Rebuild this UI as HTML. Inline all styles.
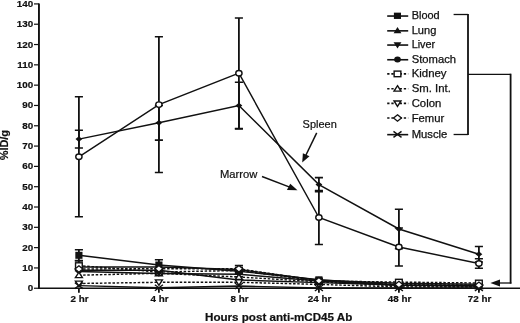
<!DOCTYPE html>
<html><head><meta charset="utf-8"><style>
html,body{margin:0;padding:0;background:#fff;}
body{width:520px;height:323px;overflow:hidden;}
svg{display:block;filter:blur(0.28px);}
text{font-family:"Liberation Sans",sans-serif;fill:#111;}
.tl{font-size:9.1px;font-weight:bold;stroke:#111;stroke-width:0.2px;}
.xl{font-size:9.2px;font-weight:bold;stroke:#111;stroke-width:0.2px;}
.lg{font-size:10.2px;stroke:#111;stroke-width:0.25px;}
.an{font-size:10.6px;stroke:#111;stroke-width:0.2px;}
.yt{font-size:10.2px;font-weight:bold;stroke:#111;stroke-width:0.15px;}
.xt{font-size:10.2px;font-weight:bold;stroke:#111;stroke-width:0.2px;}
</style></head><body>
<svg width="520" height="323" viewBox="0 0 520 323">
<path d="M38.95,3.5 V289" stroke="#111" stroke-width="1.9" fill="none"/>
<path d="M38,288.25 H520" stroke="#111" stroke-width="1.5" fill="none"/>
<path d="M34.0,288.25 H39" stroke="#111" stroke-width="1.2"/>
<text transform="translate(33.2,291.25) scale(1.08,1)" text-anchor="end" class="tl">0</text>
<path d="M34.0,267.94 H39" stroke="#111" stroke-width="1.2"/>
<text transform="translate(33.2,270.94) scale(1.08,1)" text-anchor="end" class="tl">10</text>
<path d="M34.0,247.63 H39" stroke="#111" stroke-width="1.2"/>
<text transform="translate(33.2,250.63) scale(1.08,1)" text-anchor="end" class="tl">20</text>
<path d="M34.0,227.32 H39" stroke="#111" stroke-width="1.2"/>
<text transform="translate(33.2,230.32) scale(1.08,1)" text-anchor="end" class="tl">30</text>
<path d="M34.0,207.01 H39" stroke="#111" stroke-width="1.2"/>
<text transform="translate(33.2,210.01) scale(1.08,1)" text-anchor="end" class="tl">40</text>
<path d="M34.0,186.70 H39" stroke="#111" stroke-width="1.2"/>
<text transform="translate(33.2,189.70) scale(1.08,1)" text-anchor="end" class="tl">50</text>
<path d="M34.0,166.39 H39" stroke="#111" stroke-width="1.2"/>
<text transform="translate(33.2,169.39) scale(1.08,1)" text-anchor="end" class="tl">60</text>
<path d="M34.0,146.08 H39" stroke="#111" stroke-width="1.2"/>
<text transform="translate(33.2,149.08) scale(1.08,1)" text-anchor="end" class="tl">70</text>
<path d="M34.0,125.77 H39" stroke="#111" stroke-width="1.2"/>
<text transform="translate(33.2,128.77) scale(1.08,1)" text-anchor="end" class="tl">80</text>
<path d="M34.0,105.46 H39" stroke="#111" stroke-width="1.2"/>
<text transform="translate(33.2,108.46) scale(1.08,1)" text-anchor="end" class="tl">90</text>
<path d="M34.0,85.15 H39" stroke="#111" stroke-width="1.2"/>
<text transform="translate(33.2,88.15) scale(1.08,1)" text-anchor="end" class="tl">100</text>
<path d="M34.0,64.84 H39" stroke="#111" stroke-width="1.2"/>
<text transform="translate(33.2,67.84) scale(1.08,1)" text-anchor="end" class="tl">110</text>
<path d="M34.0,44.53 H39" stroke="#111" stroke-width="1.2"/>
<text transform="translate(33.2,47.53) scale(1.08,1)" text-anchor="end" class="tl">120</text>
<path d="M34.0,24.22 H39" stroke="#111" stroke-width="1.2"/>
<text transform="translate(33.2,27.22) scale(1.08,1)" text-anchor="end" class="tl">130</text>
<path d="M34.0,3.91 H39" stroke="#111" stroke-width="1.2"/>
<text transform="translate(33.2,6.91) scale(1.08,1)" text-anchor="end" class="tl">140</text>
<path d="M78.90,288.25 V292.8" stroke="#111" stroke-width="1.8"/>
<text transform="translate(79.50,301.6) scale(1.07,1)" text-anchor="middle" class="xl">2 hr</text>
<path d="M158.90,288.25 V292.8" stroke="#111" stroke-width="1.8"/>
<text transform="translate(159.50,301.6) scale(1.07,1)" text-anchor="middle" class="xl">4 hr</text>
<path d="M238.90,288.25 V292.8" stroke="#111" stroke-width="1.8"/>
<text transform="translate(239.50,301.6) scale(1.07,1)" text-anchor="middle" class="xl">8 hr</text>
<path d="M318.90,288.25 V292.8" stroke="#111" stroke-width="1.8"/>
<text transform="translate(319.50,301.6) scale(1.07,1)" text-anchor="middle" class="xl">24 hr</text>
<path d="M398.90,288.25 V292.8" stroke="#111" stroke-width="1.8"/>
<text transform="translate(399.50,301.6) scale(1.07,1)" text-anchor="middle" class="xl">48 hr</text>
<path d="M478.90,288.25 V292.8" stroke="#111" stroke-width="1.8"/>
<text transform="translate(479.50,301.6) scale(1.07,1)" text-anchor="middle" class="xl">72 hr</text>
<polyline points="78.90,156.80 158.90,104.60 238.90,73.20 318.90,217.50 398.90,247.00 478.90,263.50" fill="none" stroke="#111" stroke-width="1.45"/>
<polyline points="78.90,139.10 158.90,122.80 238.90,105.60 318.90,184.60 398.90,229.00 478.90,254.20" fill="none" stroke="#111" stroke-width="1.45"/>
<polyline points="78.90,255.30 158.90,265.00 238.90,271.20 318.90,279.80 398.90,285.00 478.90,285.80" fill="none" stroke="#111" stroke-width="1.45"/>
<polyline points="78.90,267.00 158.90,267.00 238.90,269.50 318.90,280.20 398.90,283.30 478.90,284.20" fill="none" stroke="#111" stroke-width="1.45"/>
<polyline points="78.90,271.50 158.90,273.50 238.90,274.20 318.90,281.00 398.90,285.40 478.90,286.00" fill="none" stroke="#111" stroke-width="1.45"/>
<polyline points="78.90,270.20 158.90,270.20 238.90,280.00 318.90,282.60 398.90,285.00 478.90,285.60" fill="none" stroke="#111" stroke-width="1.45"/>
<polyline points="78.90,265.60 158.90,272.00 238.90,270.50 318.90,281.00 398.90,282.10 478.90,283.00" fill="none" stroke="#111" stroke-width="1.45" stroke-dasharray="2.5,1.7"/>
<polyline points="78.90,275.20 158.90,273.30 238.90,277.00 318.90,281.80 398.90,285.80 478.90,286.20" fill="none" stroke="#111" stroke-width="1.45" stroke-dasharray="2.5,1.7"/>
<polyline points="78.90,283.50 158.90,282.30 238.90,282.30 318.90,284.40 398.90,286.90 478.90,287.00" fill="none" stroke="#111" stroke-width="1.45" stroke-dasharray="2.5,1.7"/>
<polyline points="78.90,269.00 158.90,268.70 238.90,268.80 318.90,280.80 398.90,284.50 478.90,285.20" fill="none" stroke="#111" stroke-width="1.45" stroke-dasharray="2.5,1.7"/>
<polyline points="78.90,285.60 158.90,287.80 238.90,286.00 318.90,288.00 398.90,288.00 478.90,288.00" fill="none" stroke="#111" stroke-width="1.45"/>
<path d="M78.90,96.80 V216.80" stroke="#111" stroke-width="1.8" fill="none"/>
<path d="M74.85,96.80 H82.95 M74.85,216.80 H82.95" stroke="#111" stroke-width="1.55" fill="none"/>
<path d="M158.90,36.80 V172.40" stroke="#111" stroke-width="1.8" fill="none"/>
<path d="M154.85,36.80 H162.95 M154.85,172.40 H162.95" stroke="#111" stroke-width="1.55" fill="none"/>
<path d="M238.90,17.90 V128.50" stroke="#111" stroke-width="1.8" fill="none"/>
<path d="M234.85,17.90 H242.95 M234.85,128.50 H242.95" stroke="#111" stroke-width="1.55" fill="none"/>
<path d="M318.90,190.50 V244.50" stroke="#111" stroke-width="1.8" fill="none"/>
<path d="M314.85,190.50 H322.95 M314.85,244.50 H322.95" stroke="#111" stroke-width="1.55" fill="none"/>
<path d="M398.90,228.00 V266.00" stroke="#111" stroke-width="1.8" fill="none"/>
<path d="M394.85,228.00 H402.95 M394.85,266.00 H402.95" stroke="#111" stroke-width="1.55" fill="none"/>
<path d="M478.90,258.70 V268.30" stroke="#111" stroke-width="1.8" fill="none"/>
<path d="M474.85,258.70 H482.95 M474.85,268.30 H482.95" stroke="#111" stroke-width="1.55" fill="none"/>
<path d="M78.90,130.20 V148.00" stroke="#111" stroke-width="1.8" fill="none"/>
<path d="M74.85,130.20 H82.95 M74.85,148.00 H82.95" stroke="#111" stroke-width="1.55" fill="none"/>
<path d="M158.90,105.50 V140.10" stroke="#111" stroke-width="1.8" fill="none"/>
<path d="M154.85,105.50 H162.95 M154.85,140.10 H162.95" stroke="#111" stroke-width="1.55" fill="none"/>
<path d="M238.90,82.30 V128.90" stroke="#111" stroke-width="1.8" fill="none"/>
<path d="M234.85,82.30 H242.95 M234.85,128.90 H242.95" stroke="#111" stroke-width="1.55" fill="none"/>
<path d="M318.90,177.60 V191.60" stroke="#111" stroke-width="1.8" fill="none"/>
<path d="M314.85,177.60 H322.95 M314.85,191.60 H322.95" stroke="#111" stroke-width="1.55" fill="none"/>
<path d="M398.90,209.20 V248.80" stroke="#111" stroke-width="1.8" fill="none"/>
<path d="M394.85,209.20 H402.95 M394.85,248.80 H402.95" stroke="#111" stroke-width="1.55" fill="none"/>
<path d="M478.90,246.40 V262.00" stroke="#111" stroke-width="1.8" fill="none"/>
<path d="M474.85,246.40 H482.95 M474.85,262.00 H482.95" stroke="#111" stroke-width="1.55" fill="none"/>
<path d="M78.90,249.80 V260.80" stroke="#111" stroke-width="1.8" fill="none"/>
<path d="M74.85,249.80 H82.95 M74.85,260.80 H82.95" stroke="#111" stroke-width="1.55" fill="none"/>
<path d="M158.90,259.80 V270.20" stroke="#111" stroke-width="1.8" fill="none"/>
<path d="M154.85,259.80 H162.95 M154.85,270.20 H162.95" stroke="#111" stroke-width="1.55" fill="none"/>
<path d="M238.90,265.60 V276.80" stroke="#111" stroke-width="1.8" fill="none"/>
<path d="M234.85,265.60 H242.95 M234.85,276.80 H242.95" stroke="#111" stroke-width="1.55" fill="none"/>
<path d="M78.90,260.60 V270.60" stroke="#111" stroke-width="1.8" fill="none"/>
<path d="M74.85,260.60 H82.95 M74.85,270.60 H82.95" stroke="#111" stroke-width="1.55" fill="none"/>
<ellipse cx="78.90" cy="156.80" rx="3.15" ry="2.75" fill="#fff" stroke="#111" stroke-width="1.4"/>
<path d="M78.90,136.20 L82.30,139.10 L78.90,142.00 L75.50,139.10Z" fill="#111"/>
<rect x="75.32" y="251.80" width="7.17" height="7.00" fill="#111"/>
<path d="M78.90,263.40 L82.82,269.60 L74.98,269.60Z" fill="#111"/>
<path d="M78.90,275.10 L82.82,268.90 L74.98,268.90Z" fill="#111"/>
<ellipse cx="78.90" cy="270.20" rx="3.36" ry="3.00" fill="#111"/>
<rect x="75.54" y="262.80" width="6.72" height="5.60" fill="#fff" stroke="#111" stroke-width="1.4"/>
<path d="M78.90,272.20 L82.37,277.60 L75.43,277.60Z" fill="#fff" stroke="#111" stroke-width="1.4"/>
<path d="M78.90,286.50 L82.37,281.10 L75.43,281.10Z" fill="#fff" stroke="#111" stroke-width="1.4"/>
<path d="M78.90,265.80 L82.82,269.00 L78.90,272.20 L74.98,269.00Z" fill="#fff" stroke="#111" stroke-width="1.35"/>
<path d="M74.87,282.60 L82.93,288.60 M82.93,282.60 L74.87,288.60" stroke="#111" stroke-width="1.4" fill="none"/>
<ellipse cx="158.90" cy="104.60" rx="3.15" ry="2.75" fill="#fff" stroke="#111" stroke-width="1.4"/>
<path d="M158.90,119.90 L162.30,122.80 L158.90,125.70 L155.50,122.80Z" fill="#111"/>
<rect x="155.54" y="269.20" width="6.72" height="5.60" fill="#fff" stroke="#111" stroke-width="1.4"/>
<path d="M158.90,270.30 L162.37,275.70 L155.43,275.70Z" fill="#fff" stroke="#111" stroke-width="1.4"/>
<path d="M158.90,285.30 L162.37,279.90 L155.43,279.90Z" fill="#fff" stroke="#111" stroke-width="1.4"/>
<path d="M154.87,284.80 L162.93,290.80 M162.93,284.80 L154.87,290.80" stroke="#111" stroke-width="1.4" fill="none"/>
<ellipse cx="158.90" cy="270.20" rx="3.36" ry="3.00" fill="#111"/>
<path d="M158.90,277.10 L162.82,270.90 L154.98,270.90Z" fill="#111"/>
<path d="M158.90,263.40 L162.82,269.60 L154.98,269.60Z" fill="#111"/>
<rect x="155.32" y="261.50" width="7.17" height="7.00" fill="#111"/>
<path d="M158.90,265.50 L162.82,268.70 L158.90,271.90 L154.98,268.70Z" fill="#fff" stroke="#111" stroke-width="1.35"/>
<ellipse cx="238.90" cy="73.20" rx="3.15" ry="2.75" fill="#fff" stroke="#111" stroke-width="1.4"/>
<path d="M238.90,102.70 L242.30,105.60 L238.90,108.50 L235.50,105.60Z" fill="#111"/>
<rect x="235.54" y="267.70" width="6.72" height="5.60" fill="#fff" stroke="#111" stroke-width="1.4"/>
<ellipse cx="238.90" cy="280.00" rx="3.36" ry="3.00" fill="#111"/>
<path d="M238.90,277.80 L242.82,271.60 L234.98,271.60Z" fill="#111"/>
<path d="M238.90,265.90 L242.82,272.10 L234.98,272.10Z" fill="#111"/>
<rect x="235.32" y="267.70" width="7.17" height="7.00" fill="#111"/>
<path d="M238.90,274.00 L242.37,279.40 L235.43,279.40Z" fill="#fff" stroke="#111" stroke-width="1.4"/>
<path d="M238.90,285.30 L242.37,279.90 L235.43,279.90Z" fill="#fff" stroke="#111" stroke-width="1.4"/>
<path d="M238.90,265.60 L242.82,268.80 L238.90,272.00 L234.98,268.80Z" fill="#fff" stroke="#111" stroke-width="1.35"/>
<path d="M234.87,283.00 L242.93,289.00 M242.93,283.00 L234.87,289.00" stroke="#111" stroke-width="1.4" fill="none"/>
<ellipse cx="318.90" cy="217.50" rx="3.15" ry="2.75" fill="#fff" stroke="#111" stroke-width="1.4"/>
<path d="M318.90,181.70 L322.30,184.60 L318.90,187.50 L315.50,184.60Z" fill="#111"/>
<rect x="315.54" y="278.20" width="6.72" height="5.60" fill="#fff" stroke="#111" stroke-width="1.4"/>
<path d="M318.90,278.80 L322.37,284.20 L315.43,284.20Z" fill="#fff" stroke="#111" stroke-width="1.4"/>
<path d="M318.90,287.40 L322.37,282.00 L315.43,282.00Z" fill="#fff" stroke="#111" stroke-width="1.4"/>
<path d="M314.87,285.00 L322.93,291.00 M322.93,285.00 L314.87,291.00" stroke="#111" stroke-width="1.4" fill="none"/>
<ellipse cx="318.90" cy="282.60" rx="3.36" ry="3.00" fill="#111"/>
<path d="M318.90,284.60 L322.82,278.40 L314.98,278.40Z" fill="#111"/>
<path d="M318.90,276.60 L322.82,282.80 L314.98,282.80Z" fill="#111"/>
<rect x="315.32" y="276.30" width="7.17" height="7.00" fill="#111"/>
<path d="M318.90,277.60 L322.82,280.80 L318.90,284.00 L314.98,280.80Z" fill="#fff" stroke="#111" stroke-width="1.35"/>
<ellipse cx="398.90" cy="247.00" rx="3.15" ry="2.75" fill="#fff" stroke="#111" stroke-width="1.4"/>
<path d="M398.90,226.10 L402.30,229.00 L398.90,231.90 L395.50,229.00Z" fill="#111"/>
<path d="M394.87,285.00 L402.93,291.00 M402.93,285.00 L394.87,291.00" stroke="#111" stroke-width="1.4" fill="none"/>
<path d="M398.90,289.90 L402.37,284.50 L395.43,284.50Z" fill="#fff" stroke="#111" stroke-width="1.4"/>
<path d="M398.90,282.80 L402.37,288.20 L395.43,288.20Z" fill="#fff" stroke="#111" stroke-width="1.4"/>
<ellipse cx="398.90" cy="285.00" rx="3.36" ry="3.00" fill="#111"/>
<path d="M398.90,289.00 L402.82,282.80 L394.98,282.80Z" fill="#111"/>
<path d="M398.90,279.70 L402.82,285.90 L394.98,285.90Z" fill="#111"/>
<rect x="395.32" y="281.50" width="7.17" height="7.00" fill="#111"/>
<rect x="395.54" y="279.30" width="6.72" height="5.60" fill="#fff" stroke="#111" stroke-width="1.4"/>
<path d="M398.90,281.30 L402.82,284.50 L398.90,287.70 L394.98,284.50Z" fill="#fff" stroke="#111" stroke-width="1.35"/>
<ellipse cx="478.90" cy="263.50" rx="3.15" ry="2.75" fill="#fff" stroke="#111" stroke-width="1.4"/>
<path d="M478.90,251.30 L482.30,254.20 L478.90,257.10 L475.50,254.20Z" fill="#111"/>
<path d="M474.87,285.00 L482.93,291.00 M482.93,285.00 L474.87,291.00" stroke="#111" stroke-width="1.4" fill="none"/>
<path d="M478.90,290.00 L482.37,284.60 L475.43,284.60Z" fill="#fff" stroke="#111" stroke-width="1.4"/>
<path d="M478.90,283.20 L482.37,288.60 L475.43,288.60Z" fill="#fff" stroke="#111" stroke-width="1.4"/>
<ellipse cx="478.90" cy="285.60" rx="3.36" ry="3.00" fill="#111"/>
<path d="M478.90,289.60 L482.82,283.40 L474.98,283.40Z" fill="#111"/>
<path d="M478.90,280.60 L482.82,286.80 L474.98,286.80Z" fill="#111"/>
<rect x="475.32" y="282.30" width="7.17" height="7.00" fill="#111"/>
<rect x="475.54" y="280.20" width="6.72" height="5.60" fill="#fff" stroke="#111" stroke-width="1.4"/>
<path d="M478.90,282.00 L482.82,285.20 L478.90,288.40 L474.98,285.20Z" fill="#fff" stroke="#111" stroke-width="1.35"/>
<path d="M387.2,16.05 H408.2" stroke="#111" stroke-width="1.6"/>
<rect x="393.9" y="12.65" width="7.1" height="6.3" fill="#111"/>
<text x="411.7" y="19.30" class="lg" textLength="28.0" lengthAdjust="spacingAndGlyphs">Blood</text>
<path d="M387.2,30.85 H408.2" stroke="#111" stroke-width="1.6"/>
<path d="M397.50,27.00 L401.42,33.20 L393.58,33.20Z" fill="#111"/>
<text x="411.7" y="34.10" class="lg" textLength="24.6" lengthAdjust="spacingAndGlyphs">Lung</text>
<path d="M387.2,45.05 H408.2" stroke="#111" stroke-width="1.6"/>
<path d="M397.50,48.40 L401.42,42.20 L393.58,42.20Z" fill="#111"/>
<text x="411.7" y="48.30" class="lg" textLength="23.5" lengthAdjust="spacingAndGlyphs">Liver</text>
<path d="M387.2,59.75 H408.2" stroke="#111" stroke-width="1.6"/>
<ellipse cx="397.50" cy="59.50" rx="3.36" ry="3.00" fill="#111"/>
<text x="411.7" y="63.00" class="lg" textLength="44.3" lengthAdjust="spacingAndGlyphs">Stomach</text>
<path d="M387.2,73.90 H408.2" stroke="#111" stroke-width="1.6" stroke-dasharray="2.3,1.85"/>
<rect x="394.14" y="71.10" width="6.72" height="5.60" fill="#fff" stroke="#111" stroke-width="1.4"/>
<text x="411.7" y="77.40" class="lg" textLength="34.9" lengthAdjust="spacingAndGlyphs">Kidney</text>
<path d="M387.2,88.70 H408.2" stroke="#111" stroke-width="1.6" stroke-dasharray="2.3,1.85"/>
<path d="M397.50,85.70 L400.97,91.10 L394.03,91.10Z" fill="#fff" stroke="#111" stroke-width="1.4"/>
<text x="411.7" y="92.20" class="lg" textLength="39.2" lengthAdjust="spacingAndGlyphs">Sm. Int.</text>
<path d="M387.2,103.40 H408.2" stroke="#111" stroke-width="1.6" stroke-dasharray="2.3,1.85"/>
<path d="M397.50,106.40 L400.97,101.00 L394.03,101.00Z" fill="#fff" stroke="#111" stroke-width="1.4"/>
<text x="411.7" y="106.90" class="lg" textLength="29.6" lengthAdjust="spacingAndGlyphs">Colon</text>
<path d="M387.2,118.00 H408.2" stroke="#111" stroke-width="1.6" stroke-dasharray="2.3,1.85"/>
<path d="M397.50,114.80 L401.42,118.00 L397.50,121.20 L393.58,118.00Z" fill="#fff" stroke="#111" stroke-width="1.35"/>
<text x="411.7" y="121.50" class="lg" textLength="32.6" lengthAdjust="spacingAndGlyphs">Femur</text>
<path d="M387.2,134.65 H408.2" stroke="#111" stroke-width="1.6"/>
<path d="M393.47,131.40 L401.53,137.40 M401.53,131.40 L393.47,137.40" stroke="#111" stroke-width="1.4" fill="none"/>
<text x="411.7" y="137.90" class="lg" textLength="35.7" lengthAdjust="spacingAndGlyphs">Muscle</text>
<path d="M453.6,14.5 H468" stroke="#111" stroke-width="1.3" fill="none"/>
<path d="M453.6,134.5 H468" stroke="#111" stroke-width="1.3" fill="none"/>
<path d="M468,13.9 V135.1" stroke="#111" stroke-width="1.8" fill="none"/>
<path d="M468,74.35 H510.7" stroke="#111" stroke-width="1.3" fill="none"/>
<path d="M510.6,73.7 V283.6" stroke="#111" stroke-width="1.8" fill="none"/>
<path d="M499,283 H511.4" stroke="#111" stroke-width="1.3" fill="none"/>
<path d="M490.4,283 L500,279.6 L500,286.4Z" fill="#111"/>
<text x="302.6" y="128" class="an" textLength="34.2" lengthAdjust="spacingAndGlyphs">Spleen</text>
<text x="220" y="178.2" class="an" textLength="37.4" lengthAdjust="spacingAndGlyphs">Marrow</text>
<path d="M316.7,132.9 L305.5,156" stroke="#111" stroke-width="1.5"/>
<path d="M302.2,162.5 L302.9,153.2 L309.5,156.3Z" fill="#111"/>
<path d="M262,176.5 L291,187.6" stroke="#111" stroke-width="1.45"/>
<path d="M297.5,190.3 L286.9,190.1 L290.2,183.7Z" fill="#111"/>
<text transform="translate(7.5,160.3) rotate(-90)" class="yt" textLength="30.3" lengthAdjust="spacingAndGlyphs">%ID/g</text>
<text x="205" y="320.6" class="xt" textLength="147.3" lengthAdjust="spacingAndGlyphs">Hours post anti-mCD45 Ab</text>
</svg>
</body></html>
